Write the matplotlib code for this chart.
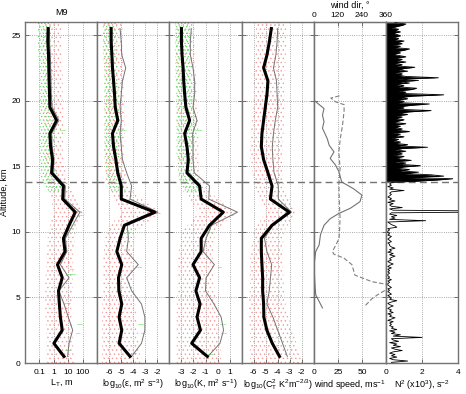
import numpy as np
import matplotlib
matplotlib.use("Agg")
import matplotlib.pyplot as plt

plt.rcParams['font.family'] = ['Liberation Sans', 'DejaVu Sans']
plt.rcParams['axes.unicode_minus'] = False
plt.rcParams['mathtext.fontset'] = 'custom'
plt.rcParams['mathtext.rm'] = 'Liberation Sans'
plt.rcParams['mathtext.it'] = 'Liberation Sans:italic'
plt.rcParams['mathtext.default'] = 'regular'
plt.rcParams['hatch.linewidth'] = 0.5

# ---- binned profiles (1 km bins) ----
alt = [0.5, 1.5, 2.5, 3.5, 4.5, 5.5, 6.5, 7.5, 8.5, 9.5, 10.5, 11.5, 12.5,
       13.5, 14.5, 15.5, 16.5, 17.5, 18.5, 19.5, 20.5, 21.5, 22.5, 23.5, 24.5, 25.5]

# log10(L_T)
lt_med = [0.70, 0.0, 0.58, 0.45, 0.38, 0.32, 0.58, 0.25, 0.77, 0.66, 1.05, 1.48, 0.61,
          0.66, -0.16, -0.09, -0.23, -0.28, 0.19, -0.28, -0.30, -0.33, -0.35, -0.37, -0.42, -0.40]
lt_mean = [0.95, 1.05, 1.30, 1.0, 0.70, 0.35, 1.05, 0.45, 0.90, 0.80, 1.30, 1.80, 0.75,
           0.80, -0.05, 0.0, -0.12, -0.15, 0.35, -0.12, -0.18, -0.20, -0.22, -0.25, -0.30, -0.30]
# log10(eps)
eps_med = [-4.27, -5.18, -4.96, -5.18, -4.96, -5.20, -5.23, -4.96, -5.37, -5.10, -4.74, -2.22, -5.0,
           -5.0, -5.29, -5.45, -5.64, -5.73, -5.29, -5.50, -5.56, -5.64, -5.73, -5.78, -5.84, -5.84]
eps_mean = [-4.14, -3.32, -3.04, -3.04, -3.32, -4.14, -4.55, -3.59, -4.55, -4.41, -4.50, -1.95, -4.27,
            -4.14, -4.55, -4.90, -5.0, -5.10, -5.0, -5.10, -5.0, -4.90, -4.63, -4.96, -5.0, -5.10]
# log10(K)
k_med = [-0.85, -2.15, -1.42, -1.70, -1.45, -1.80, -1.49, -2.04, -1.36, -1.36, -0.67, 0.48, -1.36,
         -1.49, -2.54, -2.43, -2.54, -2.73, -2.32, -2.63, -2.73, -2.81, -2.86, -2.95, -3.0, -3.0]
k_mean = [-0.80, 0.20, 0.50, 0.30, -0.30, -1.0, -0.95, -0.26, -1.20, -0.95, -0.50, 1.66, -0.73,
          -0.67, -1.93, -2.04, -2.04, -2.07, -1.71, -2.04, -1.90, -1.90, -2.04, -2.26, -2.26, -2.18]
# log10(CT2)
ct_med = [-3.85, -4.45, -4.90, -5.15, -5.17, -5.25, -5.25, -5.31, -5.36, -5.36, -4.47, -3.03, -4.61,
          -4.47, -4.81, -5.17, -5.36, -5.31, -5.17, -5.03, -4.89, -4.81, -5.17, -4.89, -4.69, -4.53]
ct_mean = [-3.20, -3.60, -4.0, -4.40, -4.90, -4.70, -4.60, -4.50, -4.90, -5.10, -4.40, -2.85, -3.95,
           -3.95, -4.30, -4.40, -4.45, -4.35, -4.20, -4.0, -4.05, -4.10, -4.35, -4.15, -4.05, -4.0]

# ---- extent of the raw scatter ----
cl_alt = [0, 2, 4, 6, 8, 10, 11.5, 13, 14, 16, 18, 20, 22, 24, 26]
lt_red_lo = [-0.5, -0.5, -0.6, -0.6, -0.5, -0.4, 0.0, -0.3, -0.6, -0.7, -0.7, -0.7, -0.7, -0.8, -0.8]
lt_red_hi = [1.4, 1.3, 1.2, 1.3, 1.3, 1.5, 2.0, 1.3, 0.9, 0.6, 0.7, 0.6, 0.6, 0.5, 0.5]
eps_red_lo = [-6.6, -6.6, -6.6, -6.5, -6.5, -6.3, -5.0, -6.0, -6.3, -6.4, -6.4, -6.4, -6.4, -6.5, -6.5]
eps_red_hi = [-3.4, -3.6, -3.8, -4.0, -4.0, -3.8, -1.8, -4.0, -4.6, -4.8, -4.7, -4.8, -4.8, -4.9, -4.9]
k_red_lo = [-3.4, -3.4, -3.4, -3.3, -3.3, -3.0, -1.5, -2.8, -3.2, -3.3, -3.4, -3.4, -3.4, -3.5, -3.5]
k_red_hi = [0.3, 0.2, 0.0, -0.3, -0.4, -0.2, 1.5, -0.6, -1.5, -1.6, -1.6, -1.7, -1.8, -1.9, -1.9]
ct_red_lo = [-6.3, -6.3, -6.4, -6.3, -6.3, -6.0, -5.0, -5.8, -6.0, -6.3, -6.2, -6.0, -6.0, -5.8, -5.8]
ct_red_hi = [-2.0, -2.6, -3.3, -3.5, -3.6, -3.5, -2.5, -3.3, -3.6, -3.6, -3.5, -3.4, -3.4, -3.3, -3.3]

gr_alt = [13, 14, 16, 18, 20, 22, 24, 26]
lt_grn_lo = [-0.3, -0.9, -1.0, -1.0, -1.0, -1.0, -1.1, -1.1]
lt_grn_hi = [0.8, 0.3, 0.0, 0.1, -0.1, -0.1, -0.2, -0.2]
eps_grn_lo = [-5.8, -6.2, -6.4, -6.4, -6.4, -6.4, -6.5, -6.5]
eps_grn_hi = [-4.6, -4.9, -5.2, -5.1, -5.2, -5.3, -5.4, -5.4]
k_grn_lo = [-2.6, -3.2, -3.4, -3.4, -3.4, -3.5, -3.5, -3.5]
k_grn_hi = [-1.2, -1.9, -2.0, -1.8, -2.0, -2.2, -2.3, -2.3]

# green streaks (alt, lo, hi)
lt_streaks = [(11.3, 1.6, 2.0), (11.6, 1.5, 1.9), (10.3, 0.9, 1.3), (7.2, 1.1, 1.4), (6.8, 1.0, 1.5),
              (3.0, 1.6, 2.0), (2.3, 1.5, 1.8), (4.6, 0.8, 1.1), (17.8, 0.4, 0.8), (1.0, 0.8, 1.1)]
eps_streaks = [(11.4, -2.4, -1.8), (10.0, -4.6, -4.2), (7.3, -3.8, -3.4), (3.0, -3.6, -3.2),
               (2.3, -3.4, -3.0), (0.8, -4.2, -3.8), (17.8, -5.1, -4.6)]
k_streaks = [(11.3, 1.0, 1.4), (10.0, -0.9, -0.5), (7.3, 0.0, 0.3), (3.0, 0.2, 0.7),
             (2.3, 0.3, 0.8), (0.7, -0.8, -0.3), (17.8, -1.8, -1.3)]

# ---- wind ----
ws_alt = [4.2, 4.7, 5.2, 6.2, 7.5, 8.5, 9.0, 9.8, 10.5, 11.0, 11.4, 11.8, 12.3, 12.8, 13.3, 13.8,
          14.6, 15.1, 15.6, 16.1, 16.6, 17.1, 17.9, 18.4, 18.9, 19.4, 19.8, 20.05]
ws = [9, 5.5, 2, 1, 0.3, 2, 5.5, 7, 10.6, 17, 26, 38, 48, 50, 41, 29, 26, 22.5, 17, 21, 16, 14,
      9, 10.6, 9, 10.6, 4, 0]
wd_alt = [4.4, 4.9, 5.2, 5.6, 5.8, 6.0, 6.2, 6.7, 7.5, 8.0, 8.3, 8.5, 9.0, 9.5, 10.0, 11.0, 12.0,
          13.6, 14.8, 16.1, 17.1, 18.1, 19.2, 19.7, 19.9, 20.2, 20.4]
wd = [258, 290, 318, 362, 385, 362, 290, 205, 190, 150, 100, 93, 110, 126, 128, 131, 128,
      125, 131, 125, 132, 143, 151, 151, 110, 85, 135]

# ---- N2 (x10^3), 0.1 km steps from 0 km up, one row per km ----
n2_rows = [
    [0.3, 1.2, 0.4, 0.2, 0.6, 0.3, 0.5, 0.2, 0.4, 0.9],
    [0.5, 0.3, 0.8, 0.4, 0.6, 0.2, 0.7, 0.4, 0.3, 2.0],
    [0.4, 0.8, 0.3, 0.5, 0.2, 0.6, 0.3, 0.4, 0.2, 0.3],
    [0.2, 0.4, 0.1, 0.3, 0.5, 0.2, 0.3, 0.1, 0.4, 0.2],
    [0.3, 0.1, 0.2, 0.4, 0.2, 0.1, 0.3, 0.6, 0.2, 0.3],
    [0.2, 0.1, 0.3, 0.2, 0.1, 0.2, 0.1, 0.3, 0.2, 0.1],
    [0.1, 0.2, 0.1, 0.3, 0.1, 0.2, 0.1, 0.1, 0.2, 0.1],
    [0.2, 0.1, 0.3, 0.1, 0.2, 0.4, 0.2, 0.1, 0.3, 0.2],
    [0.3, 0.5, 0.2, 0.4, 0.1, 0.3, 0.2, 0.5, 0.3, 0.2],
    [0.2, 0.1, 0.3, 0.2, 0.1, 0.2, 0.3, 0.1, 0.2, 0.1],
    [0.1, 0.2, 0.1, 0.6, 0.5, 0.3, 0.2, 0.1, 2.2, 0.2],
    [0.5, 0.3, 0.6, 0.2, 0.3, 9.0, 0.4, 0.2, 0.9, 0.3],
    [0.2, 0.4, 0.1, 0.5, 0.2, 0.3, 0.1, 0.2, 0.3, 0.2],
    [0.3, 1.0, 0.2, 0.4, 0.1, 0.3, 0.2, 0.3, 1.5, 2.8],
    [3.7, 1.2, 3.2, 2.5, 1.0, 1.8, 0.8, 1.3, 0.6, 1.0],
    [1.9, 0.7, 1.1, 0.5, 1.4, 0.8, 0.6, 1.0, 0.4, 0.9],
    [0.6, 1.1, 0.5, 0.9, 2.3, 0.7, 1.2, 0.5, 0.8, 0.4],
    [0.7, 0.3, 1.0, 0.5, 0.8, 0.4, 1.3, 0.6, 0.9, 0.5],
    [0.8, 0.5, 1.1, 0.4, 0.7, 1.0, 0.5, 0.9, 0.6, 1.2],
    [0.7, 1.3, 2.5, 0.6, 1.0, 0.8, 1.4, 2.4, 0.7, 1.0],
    [0.6, 1.2, 0.8, 1.5, 3.2, 0.9, 1.1, 0.7, 1.4, 1.7],
    [0.7, 1.0, 0.5, 1.3, 0.8, 1.8, 0.6, 2.9, 1.1, 0.7],
    [0.9, 0.5, 1.2, 0.7, 1.0, 1.6, 0.6, 0.9, 0.4, 1.1],
    [0.6, 0.9, 0.5, 1.1, 0.7, 0.4, 0.8, 0.6, 1.0, 1.3],
    [0.5, 0.8, 0.4, 0.9, 0.6, 1.0, 0.5, 0.7, 0.4, 0.8],
    [0.6, 0.4, 0.8, 0.5, 0.7, 0.3, 0.6, 0.9, 1.1, 0.5],
]
n2 = np.concatenate(n2_rows)
n2_alt = np.arange(len(n2)) * 0.1 + 0.05

TROP = 13.8
RED = '#f39a9a'
GRN = '#5cdc5c'

W, H = 466., 394.
fig = plt.figure(figsize=(W / 100, H / 100), dpi=100)
lefts = [25, 97.2, 169.4, 241.6, 313.8, 386.0]
axes = [fig.add_axes([l / W, 31 / H, 72.2 / W, 341 / H]) for l in lefts]


def style(ax):
    ax.set_ylim(0, 26)
    ax.set_yticks([0, 5, 10, 15, 20, 25])
    ax.set_axisbelow(True)
    ax.grid(True, linestyle=':', color='0.55', linewidth=0.6)
    ax.tick_params(direction='in', length=3, width=0.6, labelsize=6, pad=4,
                   right=True, colors='0.35', labelcolor='black')
    ax.tick_params(axis='y', pad=3)
    for s in ax.spines.values():
        s.set_color('0.45')
        s.set_linewidth(1.0)
    ax.axhline(TROP, color='0.45', lw=1.0, dashes=(5, 3), zorder=1)


def cloud(ax, y, lo, hi, color, hatch, log=False):
    xs = list(lo) + list(hi)[::-1]
    ys = list(y) + list(y)[::-1]
    if log:
        xs = [10 ** v for v in xs]
    ax.fill(xs, ys, facecolor='none', edgecolor=color, hatch=hatch, linewidth=0, zorder=1.5)


def streaks(ax, items, log=False):
    for a, lo, hi in items:
        if log:
            lo, hi = 10 ** lo, 10 ** hi
        ax.plot([lo, hi], [a, a], color=GRN, lw=0.7, ls=(0, (1, 1)), zorder=1.6)


def profiles(ax, med, mean, log=False):
    if log:
        med = [10 ** v for v in med]
        mean = [10 ** v for v in mean]
    ax.plot(mean, alt, color='0.45', lw=0.7, zorder=3)
    ax.plot(med, alt, color='black', lw=2.2, zorder=4)


for ax in axes:
    style(ax)
for ax in axes[1:]:
    ax.set_yticklabels([])

# panel 1: L_T
ax = axes[0]
ax.set_xscale('log')
cloud(ax, cl_alt, lt_red_lo, lt_red_hi, RED, '....', log=True)
cloud(ax, gr_alt, lt_grn_lo, lt_grn_hi, GRN, '.....', log=True)
streaks(ax, lt_streaks, log=True)
profiles(ax, lt_med, lt_mean, log=True)
ax.set_xlim(0.01, 1000)
ax.set_xticks([0.1, 1, 10, 100])
ax.set_xticklabels(['0.1', '1', '10', '100'])
ax.minorticks_off()
ax.set_xlabel('L$_T$, m', fontsize=6.5, labelpad=1)
ax.set_ylabel('Altitude, km', fontsize=6.5, labelpad=2)
ax.set_title('M9', fontsize=6.5, pad=5)

# panel 2: epsilon
ax = axes[1]
cloud(ax, cl_alt, eps_red_lo, eps_red_hi, RED, '....')
cloud(ax, gr_alt, eps_grn_lo, eps_grn_hi, GRN, '.....')
streaks(ax, eps_streaks)
profiles(ax, eps_med, eps_mean)
ax.set_xlim(-7, -1)
ax.set_xticks([-6, -5, -4, -3, -2])
ax.set_xlabel('log$_{10}$(ε, m$^2$ s$^{-3}$)', fontsize=6.5, labelpad=1)

# panel 3: K
ax = axes[2]
cloud(ax, cl_alt, k_red_lo, k_red_hi, RED, '....')
cloud(ax, gr_alt, k_grn_lo, k_grn_hi, GRN, '.....')
streaks(ax, k_streaks)
profiles(ax, k_med, k_mean)
ax.set_xlim(-4, 2)
ax.set_xticks([-3, -2, -1, 0, 1])
ax.set_xlabel('log$_{10}$(K, m$^2$ s$^{-1}$)', fontsize=6.5, labelpad=1)

# panel 4: CT2
ax = axes[3]
cloud(ax, cl_alt, ct_red_lo, ct_red_hi, RED, '....')
profiles(ax, ct_med, ct_mean)
ax.set_xlim(-7, -1)
ax.set_xticks([-6, -5, -4, -3, -2])
ax.set_xlabel('log$_{10}$(C$_T^2$ K$^2$m$^{-2/3}$)', fontsize=6.5, labelpad=1)

# panel 5: wind
ax = axes[4]
ax.plot(ws, ws_alt, color='0.45', lw=0.8, zorder=3)
ax.set_xlim(0, 75)
ax.set_xticks([0, 25, 50])
ax.set_xlabel('wind speed, ms$^{-1}$', fontsize=6.5, labelpad=2)
axt = ax.twiny()
axt.plot(wd, wd_alt, color='0.5', lw=0.8, dashes=(4, 2), zorder=3)
axt.set_xlim(0, 360)
axt.set_ylim(0, 26)
axt.set_xticks([0, 120, 240, 360])
axt.tick_params(direction='in', length=3, width=0.6, labelsize=6, pad=2, colors='0.35', labelcolor='black')
for s in axt.spines.values():
    s.set_color('0.45')
fig.text((313.8 + 36) / W, 1 - 5 / H, 'wind dir, \u00b0', fontsize=6.5, ha='center', va='center')

# panel 6: N2 (dense above the tropopause)
ax = axes[5]
ax.fill_betweenx(n2_alt, 0, n2, where=n2_alt > TROP, color='black', lw=0, zorder=2.5)
ax.plot(n2, n2_alt, color='black', lw=0.6, zorder=3)
ax.set_xlim(0, 4)
ax.set_xticks([0, 2, 4])
ax.set_xlabel('N$^2$ (x10$^3$), s$^{-2}$', fontsize=6.5, labelpad=2)

fig.savefig('out.png', dpi=100)
